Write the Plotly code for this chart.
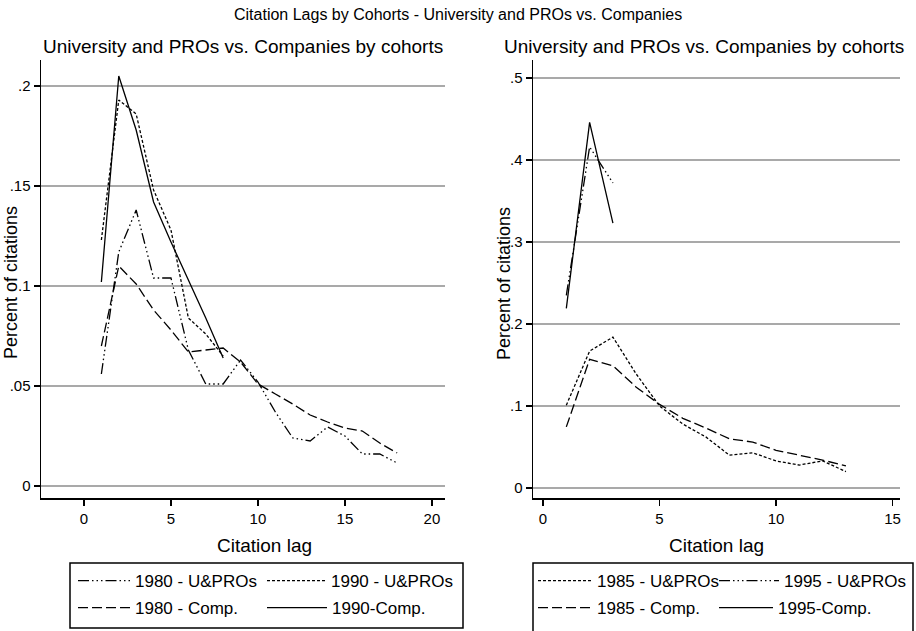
import plotly.graph_objects as go

# ---------------- data ----------------
left_lag = list(range(1, 19))
u_1980 = [0.056, 0.117, 0.138, 0.104, 0.104, 0.068, 0.051, 0.051, 0.063, 0.052,
          0.037, 0.024, 0.0225, 0.0295, 0.025, 0.016, 0.016, 0.0115]
c_1980 = [0.070, 0.110, 0.101, 0.088, 0.078, 0.067, 0.068, 0.069, 0.062, 0.051,
          0.046, 0.041, 0.0355, 0.032, 0.029, 0.0275, 0.0215, 0.0165]
lag_1990 = list(range(1, 9))
u_1990 = [0.123, 0.193, 0.186, 0.148, 0.128, 0.084, 0.076, 0.065]
c_1990 = [0.102, 0.205, 0.178, 0.142, 0.122, 0.103, 0.084, 0.064]

right_lag = list(range(1, 14))
u_1985 = [0.101, 0.167, 0.184, 0.139, 0.100, 0.078, 0.062, 0.040, 0.043, 0.033,
          0.028, 0.033, 0.020]
c_1985 = [0.0745, 0.157, 0.149, 0.123, 0.102, 0.085, 0.073, 0.060, 0.056, 0.046,
          0.040, 0.034, 0.027]
lag_1995 = [1, 2, 3]
u_1995 = [0.235, 0.416, 0.372]
c_1995 = [0.219, 0.446, 0.323]

left_yticks = [0, 0.05, 0.1, 0.15, 0.2]
left_yticktext = ["0", ".05", ".1", ".15", ".2"]
right_yticks = [0, 0.1, 0.2, 0.3, 0.4, 0.5]
right_yticktext = ["0", ".1", ".2", ".3", ".4", ".5"]
left_xticks = [0, 5, 10, 15, 20]
right_xticks = [0, 5, 10, 15]

main_title = "Citation Lags by Cohorts - University and PROs vs. Companies"
sub_title = "University and PROs vs. Companies by cohorts"
x_title = "Citation lag"
y_title = "Percent of citations"

# ---------------- styles ----------------
FONT = "Liberation Sans, Arial, sans-serif"
DASH_DOTDOT = "11px,3px,1.5px,3px,1.5px,3px,1.5px,3px"
DASH_SHORT = "3px,2px"
DASH_LONG = "10px,4px"
LW = 1.3

W, H = 916, 631


def px(v):
    return v / W


def py(v):
    return 1 - v / H


fig = go.Figure()

# legend placement (sample start x, text start x, row centre y) in pixels
legend_slots = {
    "legend":  (78, 135, 581),
    "legend2": (267, 331, 581),
    "legend3": (78, 135, 608),
    "legend4": (267, 332, 608),
    "legend5": (538, 597, 581),
    "legend6": (719, 784, 581),
    "legend7": (538, 597, 608),
    "legend8": (719, 778, 608),
}


def add(x, y, name, dash, xa, ya, legend):
    fig.add_trace(go.Scatter(
        x=x, y=y, name=name, mode="lines",
        line=dict(color="black", width=LW, dash=dash),
        xaxis=xa, yaxis=ya, legend=legend))


add(left_lag, u_1980, "1980 - U&PROs", DASH_DOTDOT, "x", "y", "legend")
add(lag_1990, u_1990, "1990 - U&PROs", DASH_SHORT, "x", "y", "legend2")
add(left_lag, c_1980, "1980 - Comp.", DASH_LONG, "x", "y", "legend3")
add(lag_1990, c_1990, "1990-Comp.", "solid", "x", "y", "legend4")

add(right_lag, u_1985, "1985 - U&PROs", DASH_SHORT, "x2", "y2", "legend5")
add(lag_1995, u_1995, "1995 - U&PROs", DASH_DOTDOT, "x2", "y2", "legend6")
add(right_lag, c_1985, "1985 - Comp.", DASH_LONG, "x2", "y2", "legend7")
add(lag_1995, c_1995, "1995-Comp.", "solid", "x2", "y2", "legend8")

axis_common = dict(showline=True, linecolor="black", linewidth=1.5,
                   ticks="outside", ticklen=6, tickwidth=1.3, tickcolor="black",
                   tickfont=dict(size=15, color="black", family=FONT),
                   zeroline=False, mirror=False, automargin=False)

legends = {}
for key, (s, t, yc) in legend_slots.items():
    legends[key] = dict(
        x=px(s - 5), y=py(yc), itemwidth=max(30, t - s - 5),
        orientation="h", font=dict(size=17, color="black", family=FONT),
        bgcolor="rgba(0,0,0,0)", borderwidth=0,
        xanchor="left", yanchor="middle", itemclick=False,
        itemdoubleclick=False)

fig.update_layout(
    template="none",
    width=W, height=H,
    margin=dict(l=0, r=0, t=0, b=0, autoexpand=False),
    paper_bgcolor="white", plot_bgcolor="white",
    font=dict(family=FONT, color="black"),
    showlegend=True,
    xaxis=dict(domain=[px(41), px(445)], range=[-2.47, 20.75],
               tickvals=left_xticks, showgrid=False, anchor="y", **axis_common),
    yaxis=dict(domain=[py(498), py(60)], range=[-0.006, 0.213],
               tickvals=left_yticks, ticktext=left_yticktext,
               showgrid=True, gridcolor="#a9a9a9", gridwidth=1.5,
               anchor="x", **axis_common),
    xaxis2=dict(domain=[px(533), px(900)], range=[-0.43, 15.32],
                tickvals=right_xticks, showgrid=False, anchor="y2", **axis_common),
    yaxis2=dict(domain=[py(498), py(60)], range=[-0.0122, 0.522],
                tickvals=right_yticks, ticktext=right_yticktext,
                showgrid=True, gridcolor="#a9a9a9", gridwidth=1.5,
                anchor="x2", **axis_common),
    **legends,
)


def text(t, x, y, size, angle=0):
    fig.add_annotation(text=t, x=px(x), y=py(y), xref="paper", yref="paper",
                       showarrow=False, xanchor="center", yanchor="middle",
                       textangle=angle,
                       font=dict(size=size, color="black", family=FONT))


text(main_title, 458, 14, 16)
text(sub_title, 243, 47, 19)
text(sub_title, 704, 47, 19)
text(x_title, 264, 545, 19)
text(x_title, 716, 545, 19)
text(y_title, 11, 283, 18, -90)
text(y_title, 504, 283, 18, -90)

# legend frames
fig.add_shape(type="rect", xref="paper", yref="paper",
              x0=px(70), x1=px(463), y0=py(628), y1=py(563),
              line=dict(color="black", width=1.5), fillcolor="rgba(0,0,0,0)")
fig.add_shape(type="rect", xref="paper", yref="paper",
              x0=px(533), x1=px(913), y0=py(640), y1=py(563),
              line=dict(color="black", width=1.5), fillcolor="rgba(0,0,0,0)")

fig.write_html("out.html",
               config={"displayModeBar": False, "staticPlot": True},
               post_script="document.body.style.margin='0';"
                           "document.body.style.overflow='hidden';")
